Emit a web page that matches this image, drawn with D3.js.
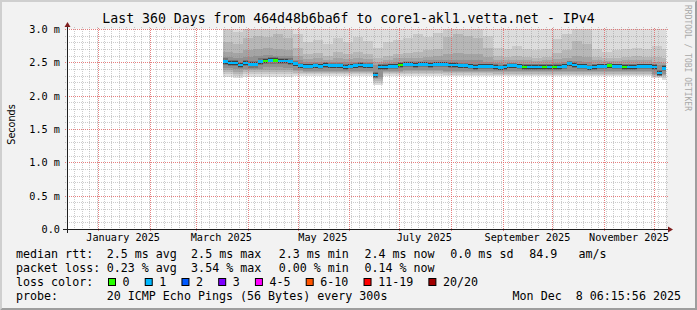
<!DOCTYPE html>
<html>
<head>
<meta charset="utf-8">
<script src="https://cdn.jsdelivr.net/npm/d3@7"></script>
<style>
html,body{margin:0;padding:0;background:#f2f2f2;}
svg{display:block;}
text{font-family:"DejaVu Sans Mono",monospace;white-space:pre;fill:#000;}
</style>
</head>
<body>
<svg id="chart" width="697" height="310"></svg>
<script>
// ---------------- data ----------------
const titleText = "Last 360 Days from 464d48b6ba6f to core1-akl1.vetta.net - IPv4";
const unitText = "Seconds";
const watermarkText = "RRDTOOL / TOBI OETIKER";
const yTickValues = [0, 0.5, 1, 1.5, 2, 2.5, 3];
const yTickLabels = ["0.0", "0.5 m", "1.0 m", "1.5 m", "2.0 m", "2.5 m", "3.0 m"];
const monthLabelDates = ["2025-01-01", "2025-03-01", "2025-05-01", "2025-07-01", "2025-09-01", "2025-11-01"];
const monthLabels = ["January 2025", "March 2025", "May 2025", "July 2025", "September 2025", "November 2025"];

// median rtt (ms), one value per 3-day bin starting 2025-03-17
const medianStart = "2025-03-17";
const medianStepDays = 3;
const medianRtt = [
  2.51,2.49,2.49,2.46,2.49,2.47,2.47,2.51,2.52,2.53,
  2.53,2.52,2.52,2.51,2.48,2.45,2.44,2.44,2.45,2.44,
  2.46,2.45,2.45,2.45,2.43,2.44,2.45,2.46,2.45,2.45,
  2.31,2.43,2.43,2.44,2.44,2.46,2.47,2.47,2.46,2.47,
  2.47,2.46,2.47,2.47,2.47,2.46,2.46,2.45,2.45,2.44,
  2.43,2.44,2.44,2.44,2.43,2.42,2.43,2.45,2.45,2.44,
  2.43,2.43,2.43,2.43,2.43,2.43,2.43,2.43,2.44,2.48,
  2.46,2.44,2.44,2.42,2.43,2.44,2.44,2.45,2.44,2.44,
  2.43,2.43,2.43,2.44,2.44,2.44,2.43,2.34,2.41];
// loss colour index per median bin
const medianLoss = [
  1,1,1,1,1,1,1,1,0,1,
  0,1,1,1,1,1,1,1,1,1,
  1,1,1,1,1,1,1,1,1,1,
  1,1,1,1,1,0,1,1,1,1,
  1,1,1,1,1,1,1,1,1,1,
  1,1,1,1,1,1,1,1,1,1,
  0,1,1,1,0,1,0,1,1,1,
  1,1,1,1,1,1,1,0,1,1,
  0,1,1,1,1,1,1,1,1];

// smoke (sorted ping ranks, ms), one value per 6-day bin starting 2025-03-17
const smokeStart = "2025-03-17";
const smokeStepDays = 6;
const smokeP20 = [
  3.4,3.4,3.4,3.4,3.4,3.4,3.4,3.3,3.3,3.3,
  3.3,3.3,3.3,3.3,3.3,3.2,3.3,3.3,3.3,3.3,
  3.3,3.3,3.4,3.4,3.4,3.4,3.3,3.3,3.3,3.3,
  3.3,3.2,3.2,3.3,3.3,3.4,3.4,3.3,3.2,3.2,
  3.3,3.3,3.3,3.3,3.2];
const smokeP19 = [
  3.00,2.95,3.05,3.10,3.05,3.10,3.02,2.92,2.80,2.84,
  2.78,2.86,2.80,2.88,2.82,2.72,2.80,2.84,2.86,2.92,
  2.88,2.94,3.05,3.08,3.05,3.02,2.90,2.72,2.70,2.74,
  2.70,2.68,2.70,2.85,2.92,3.05,3.02,2.70,2.66,2.68,
  2.70,2.72,2.70,2.74,2.70];
const smokeP18 = [
  2.80,2.78,2.86,2.90,2.88,2.92,2.86,2.72,2.62,2.64,
  2.60,2.66,2.62,2.65,2.62,2.56,2.60,2.63,2.64,2.66,
  2.68,2.70,2.88,2.92,2.90,2.86,2.72,2.60,2.58,2.60,
  2.58,2.57,2.58,2.64,2.68,2.82,2.78,2.58,2.56,2.57,
  2.58,2.59,2.58,2.58,2.56];
const smokeP17 = [
  2.66,2.64,2.68,2.70,2.72,2.70,2.68,2.60,2.55,2.56,
  2.54,2.57,2.55,2.56,2.55,2.50,2.54,2.56,2.56,2.57,
  2.58,2.59,2.62,2.64,2.63,2.62,2.58,2.54,2.53,2.54,
  2.53,2.52,2.53,2.55,2.56,2.60,2.58,2.53,2.52,2.52,
  2.53,2.53,2.53,2.50,2.49];
const smokeP16 = [
  2.58,2.57,2.58,2.60,2.61,2.60,2.59,2.53,2.50,2.50,
  2.50,2.51,2.50,2.51,2.50,2.46,2.49,2.50,2.52,2.52,
  2.53,2.53,2.54,2.54,2.54,2.53,2.51,2.49,2.48,2.48,
  2.48,2.48,2.48,2.49,2.50,2.52,2.51,2.48,2.48,2.48,
  2.48,2.48,2.48,2.46,2.45];
const smokeP5 = [
  2.42,2.40,2.40,2.40,2.43,2.43,2.42,2.39,2.37,2.37,
  2.37,2.37,2.37,2.37,2.37,2.28,2.37,2.37,2.39,2.39,
  2.39,2.39,2.375,2.375,2.37,2.37,2.37,2.365,2.365,2.365,
  2.365,2.365,2.365,2.365,2.365,2.37,2.37,2.365,2.365,2.365,
  2.365,2.365,2.365,2.33,2.33];
const smokeP4 = [
  2.38,2.36,2.38,2.38,2.39,2.39,2.38,2.37,2.355,2.355,
  2.355,2.355,2.355,2.355,2.355,2.25,2.355,2.355,2.37,2.37,
  2.37,2.37,2.355,2.355,2.355,2.355,2.355,2.35,2.35,2.35,
  2.35,2.35,2.35,2.35,2.35,2.35,2.35,2.35,2.35,2.35,
  2.35,2.35,2.35,2.315,2.31];
const smokeP3 = [
  2.35,2.33,2.35,2.35,2.36,2.36,2.35,2.34,2.34,2.34,
  2.34,2.34,2.34,2.34,2.34,2.22,2.34,2.34,2.345,2.345,
  2.345,2.345,2.335,2.335,2.335,2.335,2.335,2.33,2.33,2.33,
  2.33,2.33,2.33,2.33,2.33,2.33,2.33,2.33,2.33,2.33,
  2.33,2.33,2.33,2.30,2.29];
const smokeP2 = [
  2.32,2.30,2.32,2.32,2.32,2.32,2.32,2.32,2.32,2.32,
  2.32,2.32,2.32,2.32,2.32,2.19,2.32,2.32,2.32,2.32,
  2.32,2.32,2.315,2.315,2.315,2.315,2.315,2.315,2.315,2.315,
  2.315,2.315,2.315,2.315,2.315,2.315,2.315,2.315,2.315,2.315,
  2.315,2.315,2.315,2.28,2.27];
const smokeP1 = [
  2.28,2.26,2.28,2.28,2.28,2.28,2.28,2.29,2.30,2.30,
  2.30,2.30,2.30,2.30,2.30,2.16,2.30,2.30,2.30,2.30,
  2.30,2.30,2.30,2.30,2.30,2.30,2.30,2.30,2.30,2.30,
  2.30,2.30,2.30,2.30,2.30,2.30,2.30,2.30,2.30,2.30,
  2.30,2.30,2.30,2.26,2.24];
// half-width of dark inner smoke around the median (ms)
const smokeInnerOuter = [
  0.05,0.05,0.05,0.05,0.05,0.05,0.05,0.04,0.04,0.04,
  0.04,0.04,0.04,0.04,0.04,0.045,0.04,0.04,0.04,0.04,
  0.04,0.04,0.04,0.04,0.04,0.04,0.04,0.04,0.04,0.04,
  0.04,0.04,0.04,0.04,0.04,0.04,0.04,0.04,0.04,0.04,
  0.04,0.04,0.04,0.045,0.045];
const smokeInnerCore = [
  0.032,0.032,0.032,0.032,0.032,0.032,0.032,0.028,0.028,0.028,
  0.028,0.028,0.028,0.028,0.028,0.03,0.028,0.028,0.028,0.028,
  0.028,0.028,0.028,0.028,0.028,0.028,0.028,0.028,0.028,0.028,
  0.028,0.028,0.028,0.028,0.028,0.028,0.028,0.028,0.028,0.028,
  0.028,0.028,0.028,0.03,0.03];

const lossLabels = ["0", "1", "2", "3", "4-5", "6-10", "11-19", "20/20"];
const lossColors = ["#26ff00", "#00b8ff", "#0059ff", "#7e00ff", "#ff00ff", "#ff5500", "#ff0000", "#a10000"];
const rttLabel = "median rtt:";
const rttItems = ["2.5 ms avg", "2.5 ms max", "2.3 ms min", "2.4 ms now", "0.0 ms sd", "84.9   am/s"];
const lossLabel = "packet loss:";
const lossItems = ["0.23 % avg", "3.54 % max", "0.00 % min", "0.14 % now"];
const colorLabel = "loss color:";
const probeLabel = "probe:";
const probeText = "20 ICMP Echo Pings (56 Bytes) every 300s";
const stampText = "Mon Dec  8 06:15:56 2025";

// ---------------- layout ----------------
const W = 697, H = 310;
const X0 = 67, X1 = 666, Y0 = 229, Y1 = 29;
const tEnd = new Date(Date.UTC(2025, 11, 8, 6, 15, 56));
const tStart = d3.utcDay.offset(tEnd, -360);
const x = d3.scaleUtc().domain([tStart, tEnd]).range([X0, X1]);
const y = d3.scaleLinear().domain([0, 3]).range([Y0, Y1]);
const parse = d3.utcParse("%Y-%m-%d");

const svg = d3.select("#chart");

// background + 3d border
svg.append("rect").attr("width", W).attr("height", H).attr("fill", "#f2f2f2");
svg.append("polygon").attr("points", `0,${H} 2,${H-2} 2,2 ${W-2},2 ${W},0 0,0`).attr("fill", "#cfcfcf");
svg.append("polygon").attr("points", `2,${H-2} ${W-2},${H-2} ${W-2},2 ${W},0 ${W},${H} 0,${H}`).attr("fill", "#9e9e9e");

// canvas
svg.append("rect").attr("x", X0).attr("y", Y1).attr("width", X1 - X0).attr("height", Y0 - Y1).attr("fill", "#ffffff");
svg.append("clipPath").attr("id", "plotclip").append("rect")
  .attr("x", X0).attr("y", Y1).attr("width", X1 - X0).attr("height", Y0 - Y1);

const plot = svg.append("g").attr("clip-path", "url(#plotclip)").attr("shape-rendering", "crispEdges");

const area = d3.area().x(d => x(d.d)).y0(d => y(d.lo)).y1(d => y(d.hi)).curve(d3.curveStepAfter);

const smokeStartDate = parse(smokeStart);
const smokeDates = smokeP1.map((_, j) => d3.utcDay.offset(smokeStartDate, j * smokeStepDays));
function smokeLayer(lo, hi, color) {
  const pts = smokeDates.map((d, j) => ({d, lo: lo[j], hi: hi[j]}));
  pts.push({d: d3.utcDay.offset(smokeDates[smokeDates.length - 1], smokeStepDays), lo: lo[lo.length - 1], hi: hi[hi.length - 1]});
  plot.append("path").datum(pts).attr("d", area).attr("fill", color);
}
smokeLayer(smokeP1, smokeP20, "#dddddd");
smokeLayer(smokeP2, smokeP19, "#cacaca");
smokeLayer(smokeP3, smokeP18, "#b7b7b7");
smokeLayer(smokeP4, smokeP17, "#a4a4a4");
smokeLayer(smokeP5, smokeP16, "#919191");

const medStartDate = parse(medianStart);
const medDates = medianRtt.map((_, i) => d3.utcDay.offset(medStartDate, i * medianStepDays));
function innerLayer(off, color) {
  const pts = medianRtt.map((m, i) => {
    const j = Math.min(off.length - 1, Math.floor(d3.utcDay.count(smokeStartDate, medDates[i]) / smokeStepDays));
    return {d: medDates[i], lo: m - off[j], hi: m + off[j]};
  });
  const last = pts[pts.length - 1];
  pts.push({d: d3.utcDay.offset(last.d, medianStepDays), lo: last.lo, hi: last.hi});
  plot.append("path").datum(pts).attr("d", area).attr("fill", color);
}
innerLayer(smokeInnerOuter, "#767676");
innerLayer(smokeInnerCore, "#404040");

// ---------------- grid ----------------
const minorColor = "#8f8f8f", minorOpacity = 0.45;
const majorColor = "#e06060", majorOpacity = 0.8;
const gridMinor = svg.append("g").attr("fill", "none").attr("shape-rendering", "crispEdges");
const gridMajor = svg.append("g").attr("fill", "none");
d3.range(1, 31).forEach(k => {
  const v = k / 10;
  const major = k % 5 === 0;
  const yy = Math.round(y(v)) + 0.5;
  (major ? gridMajor : gridMinor).append("line").attr("x1", X0 - 2).attr("x2", X1 + 2).attr("y1", yy).attr("y2", yy)
    .attr("stroke", major ? majorColor : minorColor).attr("stroke-opacity", major ? majorOpacity : minorOpacity)
    .attr("stroke-dasharray", "1,1");
});
// vertical minor: every 108 hours
const minorStart = d3.utcDay.floor(tStart);
for (let t = minorStart; t <= tEnd; t = d3.utcHour.offset(t, 108)) {
  if (t < tStart) continue;
  const xx = Math.round(x(t)) + 0.5;
  gridMinor.append("line").attr("x1", xx).attr("x2", xx).attr("y1", Y1 - 2).attr("y2", Y0 + 2)
    .attr("stroke", minorColor).attr("stroke-opacity", minorOpacity).attr("stroke-dasharray", "1,1");
}
// vertical major: month starts
d3.utcMonth.range(d3.utcMonth.ceil(tStart), tEnd).forEach(t => {
  const xx = Math.round(x(t)) + 0.5;
  gridMajor.append("line").attr("x1", xx).attr("x2", xx).attr("y1", Y0 + 2).attr("y2", Y1 - 2)
    .attr("stroke", majorColor).attr("stroke-opacity", majorOpacity).attr("stroke-dasharray", "1,1");
});

// ---------------- median band ----------------
const band = 0.021;
const med = svg.append("g").attr("clip-path", "url(#plotclip)").attr("shape-rendering", "crispEdges");
medianRtt.forEach((m, i) => {
  const xa = x(medDates[i]);
  const xb = x(d3.utcDay.offset(medDates[i], medianStepDays));
  med.append("rect").attr("x", xa).attr("width", xb - xa)
    .attr("y", y(m + band)).attr("height", y(m - band) - y(m + band))
    .attr("fill", lossColors[medianLoss[i]]);
});

// ---------------- axes ----------------
const ax = svg.append("g");
ax.append("line").attr("x1", X0 - 4).attr("x2", X1 + 4).attr("y1", Y0 + 0.5).attr("y2", Y0 + 0.5).attr("stroke", "#1f1f1f");
ax.append("line").attr("x1", X0 + 0.5).attr("x2", X0 + 0.5).attr("y1", Y0 + 4).attr("y2", Y1 - 4).attr("stroke", "#1f1f1f");
ax.append("polygon").attr("points", `${X1+2},${Y0-2.5} ${X1+2},${Y0+3.5} ${X1+7},${Y0+0.5}`).attr("fill", "#801f1f");
ax.append("polygon").attr("points", `${X0-2.5},${Y1-2} ${X0+3.5},${Y1-2} ${X0+0.5},${Y1-7}`).attr("fill", "#801f1f");

// y labels
yTickValues.forEach((v, i) => {
  svg.append("text").attr("x", X0 - 7).attr("y", Math.round(y(v)) + 4)
    .attr("text-anchor", "end").attr("font-size", "10.2px").text(yTickLabels[i]);
});
// x labels (centered mid-month)
monthLabelDates.forEach((ds, i) => {
  const t = d3.utcDay.offset(parse(ds), 15);
  svg.append("text").attr("x", x(t)).attr("y", 240.5).attr("text-anchor", "middle")
    .attr("font-size", "10.2px").text(monthLabels[i]);
});

// title, unit, watermark
svg.append("text").attr("x", W / 2).attr("y", 23).attr("text-anchor", "middle").attr("font-size", "13.2px").text(titleText);
svg.append("text").attr("transform", "translate(15,124.5) rotate(-90)").attr("text-anchor", "middle")
  .style("font-family", "'DejaVu Sans',sans-serif").attr("font-size", "9.6px").text(unitText);
svg.append("text").attr("transform", "translate(685,5) rotate(90)").attr("font-size", "8px")
  .style("fill", "#a8a8a8").text(watermarkText);

// ---------------- legend ----------------
const LF = "11.67px";
const rowY = [258, 271.85, 285.7, 299.55];
const colX = [106.7, 191.1, 278.7, 364.4, 450.3, 529.3];
const leg = svg.append("g").attr("font-size", LF);
leg.append("text").attr("x", 16).attr("y", rowY[0]).text(rttLabel);
rttItems.forEach((s, i) => leg.append("text").attr("x", colX[i]).attr("y", rowY[0]).text(s));
leg.append("text").attr("x", 16).attr("y", rowY[1]).text(lossLabel);
lossItems.forEach((s, i) => leg.append("text").attr("x", colX[i]).attr("y", rowY[1]).text(s));
leg.append("text").attr("x", 16).attr("y", rowY[2]).text(colorLabel);
let bx = 108;
const cw = 7.03;
lossLabels.forEach((s, i) => {
  leg.append("rect").attr("x", bx + 0.5).attr("y", rowY[2] - 7.2).attr("width", 7).attr("height", 7)
    .attr("fill", lossColors[i]).attr("stroke", "#000").attr("stroke-width", 1);
  const tx = bx + 14.6;
  leg.append("text").attr("x", tx).attr("y", rowY[2]).text(s);
  bx = tx + s.length * cw + 15.1;
});
leg.append("text").attr("x", 16).attr("y", rowY[3]).text(probeLabel);
leg.append("text").attr("x", 106.7).attr("y", rowY[3]).text(probeText);
leg.append("text").attr("x", 681).attr("y", rowY[3]).attr("text-anchor", "end").text(stampText);
</script>
</body>
</html>
